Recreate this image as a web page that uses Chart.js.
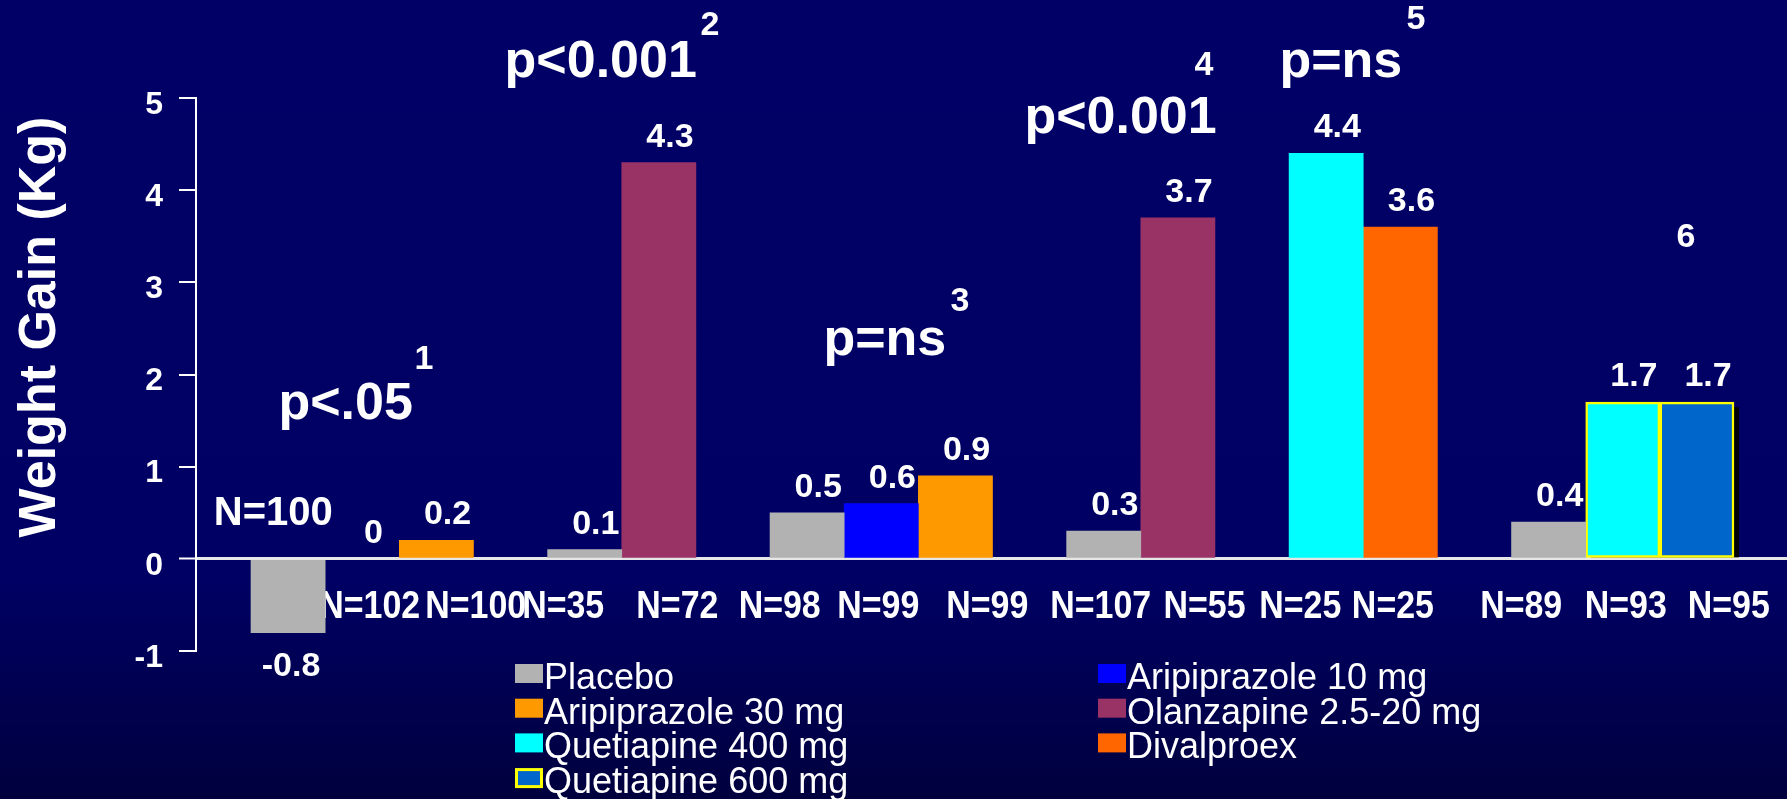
<!DOCTYPE html>
<html>
<head>
<meta charset="utf-8">
<script src="https://cdn.jsdelivr.net/npm/chart.js@4.4.1/dist/chart.umd.min.js"></script>
<style>
  html, body { margin: 0; padding: 0; background: #000066; overflow: hidden; }
  canvas { display: block; }
</style>
</head>
<body>
<canvas id="chart" width="1787" height="799"></canvas>
<script>
// Bar slots along the x axis: one slot per bar, empty slots separate the studies
const placeboSlots = [0, 4, 7, 11, 17];
const placeboKg    = [-0.8, 0.1, 0.5, 0.3, 0.4];
const arip10Slots  = [1, 8];
const arip10Kg     = [0, 0.6];
const arip30Slots  = [2, 9];
const arip30Kg     = [0.2, 0.9];
const olanzSlots   = [5, 12];
const olanzKg      = [4.3, 3.7];
const quet400Slots = [14, 18];
const quet400Kg    = [4.4, 1.7];
const divalSlots   = [15];
const divalKg      = [3.6];
const quet600Slots = [19];
const quet600Kg    = [1.7];

const seriesNames = ['Placebo', 'Aripiprazole 10 mg', 'Aripiprazole 30 mg', 'Olanzapine 2.5-20 mg',
                     'Quetiapine 400 mg', 'Divalproex', 'Quetiapine 600 mg'];

// y axis ticks (kg)
const yMin = -1, yMax = 5, yStep = 1;

// Sample sizes, placed in axis units (slot, kg)
const sampleSizes = ['N=100', 'N=102', 'N=100', 'N=35', 'N=72', 'N=98', 'N=99', 'N=99',
                     'N=107', 'N=55', 'N=25', 'N=25', 'N=89', 'N=93', 'N=95'];
const sampleSizeX = [-0.2, 1.1, 2.53, 3.71, 5.25, 6.63, 7.96, 9.43, 10.96, 12.36, 13.65, 14.9, 16.63, 18.04, 19.43];
const sampleSizeY = [0.37, -0.64, -0.64, -0.64, -0.64, -0.64, -0.64, -0.64, -0.64, -0.64, -0.64, -0.64, -0.64, -0.64, -0.64];

// Significance notes and reference numbers (axis units)
const pTexts = ['p<.05', 'p<0.001', 'p=ns', 'p<0.001', 'p=ns'];
const pX     = [-0.13, 2.92, 7.22, 9.93, 13.37];
const pY     = [1.518, 5.228, 2.213, 4.62, 5.228];
const refTexts = ['1', '2', '3', '4', '5', '6'];
const refX     = [1.833, 5.69, 9.062, 12.352, 15.211, 18.853];
const refY     = [2.191, 5.813, 2.82, 5.38, 5.878, 3.514];

const FONT = '"Liberation Sans", Arial, Helvetica, sans-serif';
const BORDER_YELLOW = '#ffff00';

function points(slots, vals) {
  return slots.map((s, i) => ({ x: s, y: vals[i] }));
}

function text(ctx, s, x, y, font, align, sx) {
  ctx.save();
  ctx.font = font;
  ctx.fillStyle = '#ffffff';
  ctx.textAlign = align || 'left';
  ctx.textBaseline = 'alphabetic';
  ctx.translate(x, y);
  ctx.scale(sx || 1, 1);
  ctx.fillText(s, 0, 0);
  ctx.restore();
}

// a bar of exactly 0 kg is left unpainted, only its label shows
function series(label, data, color, extra) {
  return Object.assign({
    grouped: false, barPercentage: 1, categoryPercentage: 1, borderSkipped: false, borderWidth: 0,
    label, data, color,
    backgroundColor: (c) => (c.raw && c.raw.y === 0 ? 'rgba(0,0,0,0)' : color)
  }, extra || {});
}

const datasets = [
  series(seriesNames[0], points(placeboSlots, placeboKg), '#b2b2b2'),
  series(seriesNames[1], points(arip10Slots, arip10Kg), '#0000ff'),
  series(seriesNames[2], points(arip30Slots, arip30Kg), '#ff9900'),
  series(seriesNames[3], points(olanzSlots, olanzKg), '#993366'),
  series(seriesNames[4], points(quet400Slots, quet400Kg), '#00ffff',
         { borderColor: BORDER_YELLOW, borderWidth: [0, 2.5] }),
  series(seriesNames[5], points(divalSlots, divalKg), '#ff6600'),
  series(seriesNames[6], points(quet600Slots, quet600Kg), '#0066cc',
         { borderColor: BORDER_YELLOW, borderWidth: 2.5 })
];

// Page background: navy, darkening toward the bottom
const backdrop = {
  id: 'backdrop',
  beforeDraw(chart) {
    const { ctx, width, height } = chart;
    const g = ctx.createLinearGradient(0, 0, 0, height);
    g.addColorStop(0, '#000066');
    g.addColorStop(0.72, '#000064');
    g.addColorStop(1, '#00003e');
    ctx.save();
    ctx.fillStyle = g;
    ctx.fillRect(0, 0, width, height);
    ctx.restore();
  }
};

// Drop shadows for outlined bars and the sample-size labels (drawn beneath the bars)
const underBars = {
  id: 'underBars',
  beforeDatasetsDraw(chart) {
    const { ctx } = chart;
    const xs = chart.scales.x, ys = chart.scales.y;
    ctx.save();
    chart.data.datasets.forEach((ds, di) => {
      const meta = chart.getDatasetMeta(di);
      meta.data.forEach((el, i) => {
        const bw = Array.isArray(ds.borderWidth) ? ds.borderWidth[i] : ds.borderWidth;
        if (!bw) return;
        const p = el.getProps(['x', 'y', 'base', 'width'], true);
        ctx.fillStyle = '#000000';
        ctx.fillRect(p.x - p.width / 2 + 5, p.y + 5, p.width, p.base - p.y - 5);
      });
    });
    ctx.restore();
    sampleSizes.forEach((s, i) => {
      const px = xs.getPixelForValue(sampleSizeX[i]);
      const py = ys.getPixelForValue(sampleSizeY[i]);
      if (i === 0) text(ctx, s, px, py, 'bold 40px ' + FONT, 'center', 1);
      else text(ctx, s, px, py, 'bold 39px ' + FONT, 'center', 0.87);
    });
  }
};

// Value labels, significance notes, axis title and legend
const annotations = {
  id: 'annotations',
  afterDraw(chart) {
    const { ctx } = chart;
    const xs = chart.scales.x, ys = chart.scales.y;
    const valueFont = 'bold 34px ' + FONT;

    chart.data.datasets.forEach((ds, di) => {
      const meta = chart.getDatasetMeta(di);
      meta.data.forEach((el, i) => {
        const v = ds.data[i].y;
        const slot = ds.data[i].x;
        const py = ys.getPixelForValue(v);
        if (v >= 0) {
          text(ctx, String(v), xs.getPixelForValue(slot + 0.15), py - 16, valueFont, 'center');
        } else {
          text(ctx, String(v), xs.getPixelForValue(slot + 0.04), py + 43, valueFont, 'center');
        }
      });
    });

    pTexts.forEach((s, i) => {
      text(ctx, s, xs.getPixelForValue(pX[i]), ys.getPixelForValue(pY[i]), 'bold 52px ' + FONT, 'left');
    });
    refTexts.forEach((s, i) => {
      const size = 34;
      text(ctx, s, xs.getPixelForValue(refX[i]), ys.getPixelForValue(refY[i]) + size * 0.358,
           'bold ' + size + 'px ' + FONT, 'center');
    });

    // y axis title
    ctx.save();
    ctx.translate(55, 327);
    ctx.rotate(-Math.PI / 2);
    ctx.font = 'bold 52px ' + FONT;
    ctx.fillStyle = '#ffffff';
    ctx.textAlign = 'center';
    ctx.textBaseline = 'alphabetic';
    ctx.fillText('Weight Gain (Kg)', 0, 0);
    ctx.restore();

    // legend: two columns, series alternate between them
    const colX = [515, 1098];
    const rowTop = 664, rowStep = 34.7;
    chart.data.datasets.forEach((ds, di) => {
      const bx = colX[di % 2];
      const by = rowTop + Math.floor(di / 2) * rowStep;
      ctx.save();
      ctx.fillStyle = ds.color;
      ctx.fillRect(bx, by, 28, 19);
      if (ds.borderColor && !Array.isArray(ds.borderWidth)) {
        ctx.strokeStyle = ds.borderColor;
        ctx.lineWidth = 3;
        ctx.strokeRect(bx + 1.5, by + 1.5, 25, 17);
      }
      ctx.restore();
      text(ctx, ds.label, bx + 29, by + 25, '36px ' + FONT, 'left');
    });
  }
};

new Chart(document.getElementById('chart'), {
  type: 'bar',
  data: { datasets },
  options: {
    responsive: false,
    animation: false,
    events: [],
    layout: { padding: { top: 98, bottom: 148, left: 0, right: 0 } },
    plugins: { legend: { display: false }, tooltip: { enabled: false }, title: { display: false } },
    scales: {
      x: {
        type: 'linear',
        min: -1.242,
        max: 20.215,
        display: false,
        afterBuildTicks(scale) { scale.ticks = []; }
      },
      y: {
        min: yMin,
        max: yMax,
        z: 1,
        afterFit(scale) { scale.width = 196; },
        ticks: {
          stepSize: yStep,
          color: '#ffffff',
          padding: 16,
          labelOffset: 7,
          font: { family: FONT, size: 32, weight: 'bold' }
        },
        grid: {
          drawOnChartArea: true,
          tickLength: 17,
          color: (c) => (c.tick && c.tick.value === 0 ? '#e6e6e6' : 'rgba(0,0,0,0)'),
          lineWidth: (c) => (c.tick && c.tick.value === 0 ? 3 : 2),
          tickColor: '#ffffff',
          tickWidth: 2
        },
        border: { display: true, color: '#ffffff', width: 2 }
      }
    }
  },
  plugins: [backdrop, underBars, annotations]
});
</script>
</body>
</html>
